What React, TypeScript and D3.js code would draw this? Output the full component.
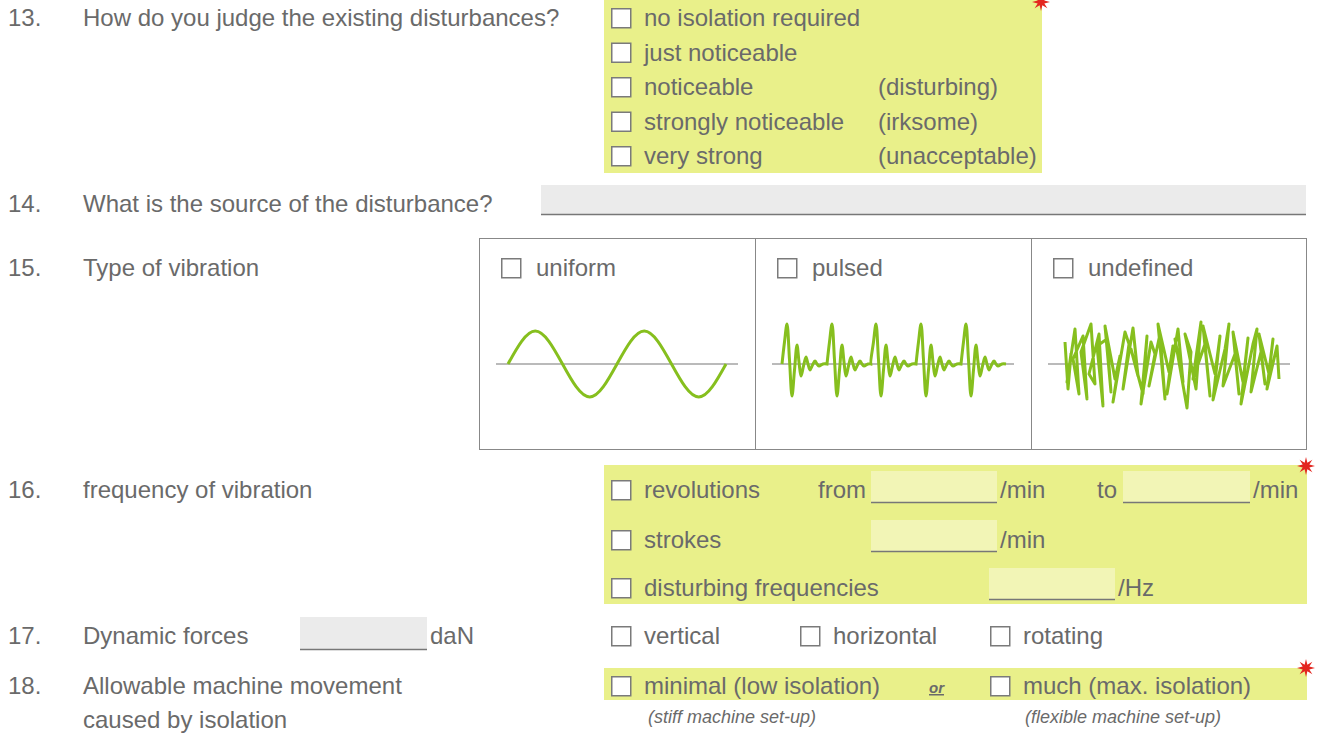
import React from "react";
import * as d3 from "d3";

// form content
const questionNumbers = ["13.", "14.", "15.", "16.", "17.", "18."];
const questionTexts = [
  ["How do you judge the existing disturbances?"],
  ["What is the source of the disturbance?"],
  ["Type of vibration"],
  ["frequency of vibration"],
  ["Dynamic forces"],
  ["Allowable machine movement", "caused by isolation"],
];
const judgeOptions = ["no isolation required", "just noticeable", "noticeable", "strongly noticeable", "very strong"];
const judgeNotes = ["", "", "(disturbing)", "(irksome)", "(unacceptable)"];
const vibrationTypes = ["uniform", "pulsed", "undefined"];
const forceDirections = ["vertical", "horizontal", "rotating"];
const movementOptions = ["minimal (low isolation)", "much (max. isolation)"];
const movementNotes = ["(stiff machine set-up)", "(flexible machine set-up)"];

// waveform samples, read from the sketches
const uniformWave = [0, 1, 0, -1, 0, 1, 0, -1, 0];
const pulseShapeX = [0, 2.5, 5, 7.5, 10, 12.5, 15, 17, 19, 21.5, 24, 26, 28, 30.5, 33, 35, 37, 41, 45];
const pulseShapeY = [0, 22, 40, 4, -32, -6, 19, 2, -12, -2, 7, 0, -6, -1, 3, 0, -2, 0, 0];
const pulseStarts = [0, 45, 89, 134, 179];
const noiseX = [0, 3, 6, 2, 10, 14, 8, 18, 22, 16, 26, 30, 24, 34, 38, 32, 42, 46, 40, 50,
  55, 48, 60, 64, 58, 68, 73, 66, 78, 82, 76, 86, 90, 84, 95, 100, 93, 104, 108, 102,
  113, 118, 110, 122, 126, 120, 131, 136, 128, 140, 145, 138, 150, 155, 148, 160, 164, 158, 170, 174,
  168, 178, 183, 176, 188, 192, 186, 196, 200, 194, 204, 208, 202, 212, 214];
const noiseY = [22, -25, 10, -18, 35, -30, 5, 28, -35, 12, 40, -20, -10, 30, -42, 18, 25, -28, 38, -15,
  8, -38, 32, 20, -25, 36, -12, 15, -30, 28, -40, 22, 10, -22, 30, -35, 40, -8, 18, -30,
  35, -18, 25, -44, 12, 30, -25, 42, -15, 20, -32, 38, -10, 28, -36, 15, 40, -22, 10, -30,
  32, -18, 26, -40, 20, 35, -28, 12, -20, 30, -10, 25, -25, 18, -15];

const W = 1322;
const H = 733;
const TEXT = "#6a6a6a";
const YELLOW = "#e9f08a";
const FIELD_YELLOW = "#f2f5b6";
const GREEN = "#86bf1e";
const FONT = "Liberation Sans, Arial, Helvetica, sans-serif";

const Check = ({ x, y }: { x: number; y: number }) => (
  <rect x={x + 0.75} y={y + 0.75} width={19} height={19} fill="#fff" stroke="#7a7a7a" strokeWidth={1.5} />
);

const Field = ({ x, y, w, h, fill }: { x: number; y: number; w: number; h: number; fill: string }) => (
  <g>
    <rect x={x} y={y} width={w} height={h} fill={fill} />
    <line x1={x} x2={x + w} y1={y + h - 0.5} y2={y + h - 0.5} stroke="#777" strokeWidth={1.5} />
  </g>
);

const Star = ({ cx, cy }: { cx: number; cy: number }) => {
  const pts = d3.range(16).map((i) => {
    const a = (i * Math.PI) / 8 - Math.PI / 2;
    const r = i % 2 === 0 ? 9 : 3.6;
    return [cx + r * Math.cos(a), cy + r * Math.sin(a)];
  });
  return <polygon points={pts.map((p) => p.join(",")).join(" ")} fill="#e3261f" />;
};

const T = ({ y, ...props }: any) => <text fill={TEXT} fontSize={24} fontFamily={FONT} y={y - 1} {...props} />;

export default function App() {
  const qBase = [27, 213, 277, 499, 645, 695];

  // uniform
  const ux = d3.scaleLinear().domain([0, uniformWave.length - 1]).range([508, 726]);
  const uy = d3.scaleLinear().domain([-1, 1]).range([397, 331]);
  const uniformPath = d3.line<number>().x((_, i) => ux(i)).y((d) => uy(d)).curve(d3.curveNatural)(uniformWave);

  // pulsed
  const pulsePts: [number, number][] = [];
  pulseStarts.forEach((s) => pulseShapeX.forEach((dx, i) => pulsePts.push([s + dx, pulseShapeY[i]])));
  const px = d3.scaleLinear().domain([0, 224]).range([782, 1006]);
  const py = d3.scaleLinear().domain([-50, 50]).range([414, 314]);
  const pulsePath = d3.line<[number, number]>().x((d) => px(d[0])).y((d) => py(d[1])).curve(d3.curveCatmullRom)(pulsePts);

  // undefined
  const nx = d3.scaleLinear().domain([0, 214]).range([1065, 1279]);
  const ny = d3.scaleLinear().domain([-50, 50]).range([414, 314]);
  const noisePath = d3.line<number>().x((d) => nx(d)).y((_, i) => ny(noiseY[i]))(noiseX);

  const judgeBase = [27, 61.5, 96, 130.5, 165];
  const panelX = [479, 755, 1031];

  return (
    <svg width={W} height={H} style={{ position: "absolute", left: 0, top: 0, display: "block" }}>
      <rect width={W} height={H} fill="#fff" />

      {/* question labels */}
      {questionNumbers.map((n, i) => (
        <g key={n}>
          <T x={8} y={qBase[i]}>{n}</T>
          {questionTexts[i].map((t, j) => (
            <T key={t} x={83} y={qBase[i] + j * 34}>{t}</T>
          ))}
        </g>
      ))}

      {/* 13 */}
      <rect x={604} y={0} width={438} height={173} fill={YELLOW} />
      {judgeOptions.map((o, i) => (
        <g key={o}>
          <Check x={611} y={judgeBase[i] - 19} />
          <T x={644} y={judgeBase[i]}>{o}</T>
          {judgeNotes[i] && <T x={878} y={judgeBase[i]}>{judgeNotes[i]}</T>}
        </g>
      ))}
      <Star cx={1041} cy={2} />

      {/* 14 */}
      <Field x={541} y={185} w={765} h={30} fill="#ebebeb" />

      {/* 15 */}
      <rect x={479.5} y={238.5} width={827} height={211} fill="none" stroke="#888" strokeWidth={1} />
      <line x1={755.5} x2={755.5} y1={238} y2={450} stroke="#888" />
      <line x1={1031.5} x2={1031.5} y1={238} y2={450} stroke="#888" />
      {vibrationTypes.map((v, i) => (
        <g key={v}>
          <Check x={panelX[i] + 22} y={258} />
          <T x={panelX[i] + 57} y={277}>{v}</T>
          <line x1={panelX[i] + 17} x2={panelX[i] + 259} y1={364} y2={364} stroke="#777" strokeWidth={1.2} />
        </g>
      ))}
      <path d={uniformPath ?? ""} fill="none" stroke={GREEN} strokeWidth={3} />
      <path d={pulsePath ?? ""} fill="none" stroke={GREEN} strokeWidth={3} />
      <path d={noisePath ?? ""} fill="none" stroke={GREEN} strokeWidth={3} strokeLinejoin="round" />

      {/* 16 */}
      <rect x={604} y={465} width={703} height={139} fill={YELLOW} />
      <Check x={611} y={480} />
      <T x={644} y={499}>revolutions</T>
      <T x={818} y={499}>from</T>
      <Field x={871} y={471} w={126} h={32} fill={FIELD_YELLOW} />
      <T x={1000} y={499}>/min</T>
      <T x={1097} y={499}>to</T>
      <Field x={1123} y={471} w={127} h={32} fill={FIELD_YELLOW} />
      <T x={1253} y={499}>/min</T>
      <Check x={611} y={530} />
      <T x={644} y={549}>strokes</T>
      <Field x={871} y={520} w={126} h={32} fill={FIELD_YELLOW} />
      <T x={1000} y={549}>/min</T>
      <Check x={611} y={578} />
      <T x={644} y={597}>disturbing frequencies</T>
      <Field x={989} y={568} w={126} h={32} fill={FIELD_YELLOW} />
      <T x={1118} y={597}>/Hz</T>
      <Star cx={1306} cy={466} />

      {/* 17 */}
      <Field x={300} y={617} w={127} h={33} fill="#ebebeb" />
      <T x={430} y={645}>daN</T>
      {forceDirections.map((f, i) => (
        <g key={f}>
          <Check x={[611, 800, 990][i]} y={626} />
          <T x={[644, 833, 1023][i]} y={645}>{f}</T>
        </g>
      ))}

      {/* 18 */}
      <rect x={604} y={668} width={703} height={32} fill={YELLOW} />
      {movementOptions.map((m, i) => (
        <g key={m}>
          <Check x={[611, 990][i]} y={676} />
          <T x={[644, 1023][i]} y={695}>{m}</T>
          <T x={[648, 1025][i]} y={724} fontSize={18} fontStyle="italic">{movementNotes[i]}</T>
        </g>
      ))}
      <T x={929} y={694} fontSize={15} fontStyle="italic" fontWeight="bold" textDecoration="underline">or</T>
      <Star cx={1306} cy={668} />
    </svg>
  );
}
